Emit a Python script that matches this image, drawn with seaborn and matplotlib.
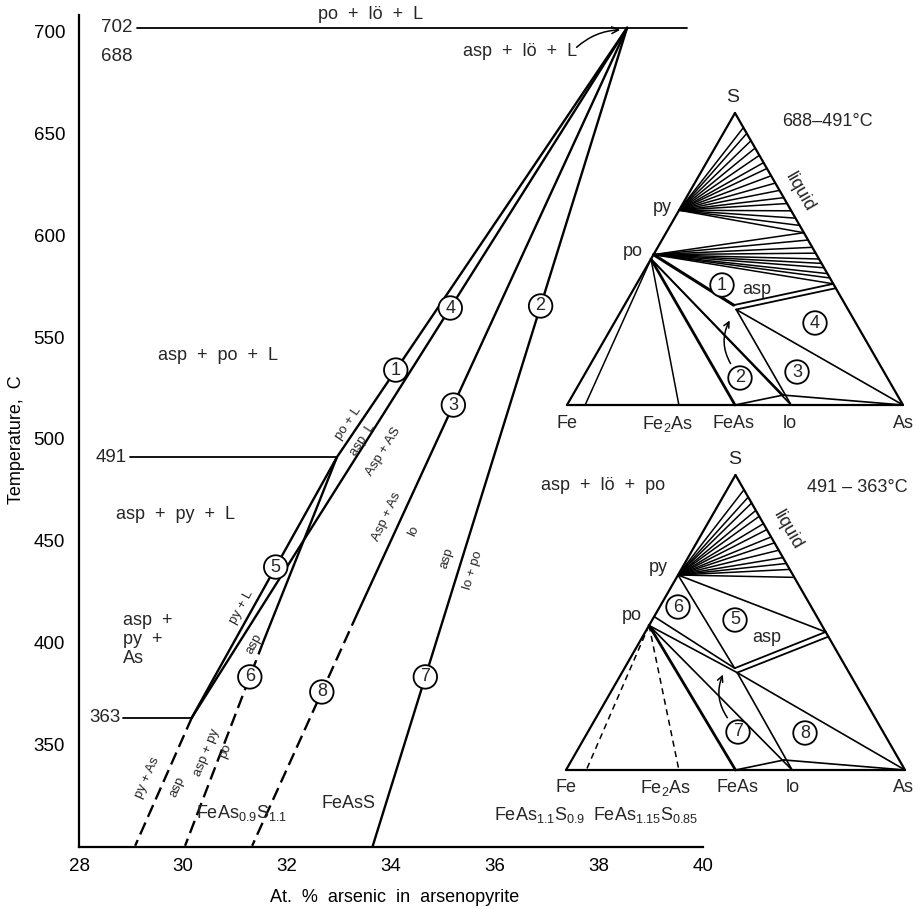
import numpy as np
import matplotlib
matplotlib.use("Agg")
import matplotlib.pyplot as plt
import seaborn as sns

sns.set_theme(style="white")
plt.rcParams['font.family'] = ['Liberation Sans', 'DejaVu Sans']
plt.rcParams['mathtext.default'] = 'regular'

# ---------------------------------------------------------------------------
# Univariant curves: at.% As in arsenopyrite versus temperature (deg C)
# ---------------------------------------------------------------------------
c1_x, c1_t = [38.54, 32.96], [702, 491]            # asp + po + L
c4_x, c4_t = [38.54, 30.17], [702, 363]            # asp + As + L
c5_x, c5_t = [32.96, 30.17], [491, 363]            # asp + py + L
cpa_x, cpa_t = [30.17, 29.08], [363, 300]          # asp + py + As (metastable)
c6_x, c6_t = [32.96, 31.54], [491, 400]            # asp + py + po
c6d_x, c6d_t = [31.54, 30.04], [400, 300]
c3_x, c3_t = [38.54, 33.35], [702, 414]            # asp + lo + As
c8_x, c8_t = [33.35, 31.33], [414, 300]
c2_x, c2_t = [38.54, 33.65], [702, 300]            # asp + lo + po

# invariant temperatures
inv_t = [702, 688, 491, 363]

# arsenopyrite compositions marked on the x axis
comp_x = [30.0, 33.33, 36.67, 38.33]
comp_lab = [r'FeAs$_{0.9}$S$_{1.1}$', 'FeAsS', r'FeAs$_{1.1}$S$_{0.9}$', r'FeAs$_{1.15}$S$_{0.85}$']

W, H = 918, 909
fig = plt.figure(figsize=(W / 100, H / 100), dpi=100)
ax = fig.add_axes([79 / W, 1 - 847 / H, 624 / W, 832 / H])
ax.set_xlim(28, 40)
ax.set_ylim(299.4, 708.3)

LW = 1.7
DASH = (0, (5.5, 2.6))
solid = [(c1_x, c1_t), (c4_x, c4_t), (c5_x, c5_t), (c6_x, c6_t), (c3_x, c3_t), (c2_x, c2_t)]
dashed = [(cpa_x, cpa_t), (c6d_x, c6d_t), (c8_x, c8_t)]
for xs, ts in solid:
    sns.lineplot(x=xs, y=ts, ax=ax, color='black', lw=LW, sort=False, estimator=None)
for xs, ts in dashed:
    sns.lineplot(x=xs, y=ts, ax=ax, color='black', lw=LW, sort=False, estimator=None,
                 linestyle=DASH)

# invariant isotherms
ax.plot([29.12, 39.69], [702, 702], color='black', lw=1.3)
ax.plot([28.98, c1_x[1]], [491, 491], color='black', lw=1.3)
ax.plot([28.85, c5_x[1]], [363, 363], color='black', lw=1.3)
for t, xx in zip(inv_t, [28.73, 28.73, 28.62, 28.5]):
    ax.text(xx, t, str(t), fontsize=13.5, ha='center', va='center',
            bbox=dict(fc='white', ec='none', pad=0.5))

# spines and ticks
sns.despine(ax=ax)
for s in ['left', 'bottom']:
    ax.spines[s].set_linewidth(1.6)
    ax.spines[s].set_color('black')
ax.set_yticks(np.arange(350, 701, 50))
ax.set_yticks(inv_t, minor=True)
ax.yaxis.remove_overlapping_locs = False
ax.tick_params(axis='y', which='major', direction='in', length=11, width=1.5,
               labelsize=13.5, pad=10, colors='black')
ax.tick_params(axis='y', which='minor', direction='in', length=9, width=1.5)
xt = np.arange(28, 41, 1)
ax.set_xticks(xt)
ax.set_xticklabels([str(v) if v % 2 == 0 else '' for v in xt])
ax.set_xticks([30, 32, 33.33, 36.67, 38.33, 40], minor=True)
ax.xaxis.remove_overlapping_locs = False
ax.tick_params(axis='x', which='major', direction='in', length=5.5, width=1.4,
               labelsize=13.5, pad=8, colors='black')
ax.tick_params(axis='x', which='minor', direction='in', length=9.5, width=1.4)

ax.set_ylabel('Temperature,  C', fontsize=13, color='black')
ax.yaxis.set_label_coords(-0.086, 0.49)
ax.set_xlabel('At.  %  arsenic  in  arsenopyrite', fontsize=13, color='black')
ax.xaxis.set_label_coords(0.506, -0.05)

# curve numbers
circ = dict(boxstyle='circle,pad=0.18', fc='white', ec='black', lw=1.3)
curve_marks = [('1', c1_x, c1_t, 533.8), ('4', c4_x, c4_t, 564.3), ('2', c2_x, c2_t, 565.3),
               ('3', c3_x, c3_t, 516.6), ('5', c5_x, c5_t, 437), ('6', c6d_x, c6d_t, 383),
               ('8', c8_x, c8_t, 375.6), ('7', c2_x, c2_t, 383)]
for lab, xs, ts, t in curve_marks:
    xx = np.interp(t, ts[::-1], xs[::-1])
    ax.text(xx, t, lab, fontsize=13, ha='center', va='center', bbox=circ, zorder=5)

# phase-field labels
fs = 13
ax.text(33.6, 708.3, 'po  +  lö  +  L', fontsize=fs, ha='center', va='center', clip_on=False)
ax.text(36.48, 690.2, 'asp  +  lö  +  L', fontsize=fs, ha='center', va='center')
ax.annotate('', xy=(38.46, 701), xytext=(37.53, 691.5),
            arrowprops=dict(arrowstyle='->', lw=1.1, color='black',
                            connectionstyle='arc3,rad=-0.2'))
ax.text(30.67, 541.2, 'asp  +  po  +  L', fontsize=fs, ha='center', va='center')
ax.text(29.85, 462.6, 'asp  +  py  +  L', fontsize=fs, ha='center', va='center')
ax.text(28.85, 401.6, 'asp  +\npy  +\nAs', fontsize=fs, ha='left', va='center', linespacing=1.15)
ax.text(38.08, 477.3, 'asp  +  lö  +  po', fontsize=fs, ha='center', va='center')
ax.text(31.13, 316, comp_lab[0], fontsize=fs, ha='center', va='center')
ax.text(33.19, 321, comp_lab[1], fontsize=fs, ha='center', va='center')
ax.text(36.85, 315, comp_lab[2], fontsize=fs, ha='center', va='center')
ax.text(38.9, 315, comp_lab[3], fontsize=fs, ha='center', va='center')

# labels along the curves
small = [('po + L', 33.17, 507.8, 56), ('asp  L', 33.46, 499.4, 57), ('Asp + AS', 33.85, 493.5, 58),
         ('py + L', 31.12, 417.3, 61), ('asp', 31.37, 399.2, 62),
         ('py + As', 29.31, 333.3, 66), ('asp', 29.9, 328.9, 66),
         ('asp + py', 30.46, 346, 68), ('po', 30.81, 346.6, 68),
         ('Asp + As', 33.92, 461.6, 65), ('lo', 34.44, 454.7, 65),
         ('asp', 35.08, 441.4, 73), ('lo + po', 35.58, 435.5, 73)]
for s, xx, t, r in small:
    ax.text(xx, t, s, fontsize=9.5, rotation=r, ha='center', va='center',
            rotation_mode='anchor')

# ---------------------------------------------------------------------------
# Ternary Fe-As-S sections, compositions in at.% (As, S)
# ---------------------------------------------------------------------------
SQ = np.sqrt(3) / 2


def tern(c):
    a, s = c[0] / 100.0, c[1] / 100.0
    return a + s / 2.0, s * SQ


FE, AS_, S_ = (0, 0), (100, 0), (0, 100)
FE2AS, FEAS, LO = (33.3, 0), (50, 0), (66.7, 0)

# 688-491 C
t1_py = (0, 66.7)
t1_po_hi, t1_po_lo = (0, 51.5), (0, 50.0)
t1_fe_end = (5.4, 0)
t1_py_liq_S = [95, 93, 90.5, 88, 85.5, 83, 81, 78.5, 76, 73.5, 71, 69, 66.5, 64, 61.5, 59]
t1_po_liq_S = [59, 56.5, 54, 52, 50, 48.5, 47, 45, 43.5, 41.5]
t1_asp = [(32.5, 34.2), (34.0, 32.7)]
t1_liq_asp_S = [41.5, 40.0]
t1_lo_top = (62.6, 3.4)

# 491-363 C
t2_py = (0, 66.1)
t2_po_hi, t2_po_lo = (0, 52.0), (0, 49.0)
t2_fe_end = (6.0, 0)
t2_py_liq_S = [95, 92.5, 90.5, 88, 86, 83.5, 81.5, 79, 77, 74.5, 72, 70, 68, 65.3]
t2_asp = [(32.5, 34.5), (34.0, 33.0)]
t2_liq_asp_S = [46.8, 45.2]
t2_lo_top = (62.6, 3.4)


def liq(s):
    return (100 - s, s)


def draw_seg(axt, p, q, lw=1.2, ls='-'):
    x0, y0 = tern(p)
    x1, y1 = tern(q)
    axt.plot([x0, x1], [y0, y1], color='black', lw=lw, ls=ls, clip_on=False,
             solid_capstyle='round')


def make_tern(fe_px, as_px, base_px, top_px):
    w = as_px - fe_px
    h = base_px - top_px
    a = fig.add_axes([fe_px / W, 1 - base_px / H, w / W, h / H])
    a.set_xlim(0, 1)
    a.set_ylim(0, SQ)
    a.axis('off')
    a.patch.set_alpha(0)
    return a


# first section
ta = make_tern(567, 903, 405, 113)
for p, q in [(FE, AS_), (AS_, S_), (S_, FE)]:
    draw_seg(ta, p, q, lw=1.6)
for s in t1_py_liq_S:
    draw_seg(ta, t1_py, liq(s), lw=1.1)
for s in t1_po_liq_S:
    draw_seg(ta, t1_po_hi, liq(s), lw=1.1)
for pa, s in zip(t1_asp, t1_liq_asp_S):
    draw_seg(ta, pa, liq(s), lw=1.3)
draw_seg(ta, t1_po_hi, t1_asp[0], lw=2.2)
draw_seg(ta, t1_asp[1], AS_, lw=1.2)
draw_seg(ta, t1_asp[1], LO, lw=1.2)
draw_seg(ta, t1_po_lo, LO, lw=1.2)
draw_seg(ta, t1_po_lo, t1_lo_top, lw=1.2)
draw_seg(ta, t1_po_lo, FEAS, lw=2.0)
draw_seg(ta, t1_po_lo, FE2AS, lw=1.1)
draw_seg(ta, t1_po_lo, t1_fe_end, lw=1.1)
draw_seg(ta, t1_lo_top, AS_, lw=1.2)
draw_seg(ta, FEAS, t1_lo_top, lw=1.2)

# second section
tb = make_tern(566, 905, 770, 475)
for p, q in [(FE, AS_), (AS_, S_), (S_, FE)]:
    draw_seg(tb, p, q, lw=1.6)
for s in t2_py_liq_S:
    draw_seg(tb, t2_py, liq(s), lw=1.1)
draw_seg(tb, t2_py, liq(t2_liq_asp_S[0]), lw=1.2)
draw_seg(tb, t2_py, t2_asp[0], lw=1.2)
for pa, s in zip(t2_asp, t2_liq_asp_S):
    draw_seg(tb, pa, liq(s), lw=1.3)
draw_seg(tb, t2_po_hi, t2_asp[0], lw=1.2)
draw_seg(tb, t2_po_lo, t2_asp[1], lw=1.2)
draw_seg(tb, t2_asp[1], AS_, lw=1.2)
draw_seg(tb, t2_asp[1], LO, lw=1.2)
draw_seg(tb, t2_po_lo, LO, lw=1.2)
draw_seg(tb, t2_po_lo, FEAS, lw=2.0)
draw_seg(tb, t2_po_lo, FE2AS, lw=1.1, ls=(0, (4, 3)))
draw_seg(tb, t2_po_lo, t2_fe_end, lw=1.1, ls=(0, (4, 3)))
draw_seg(tb, t2_lo_top, AS_, lw=1.2)
draw_seg(tb, FEAS, t2_lo_top, lw=1.2)


def ftext(px, py, s, **kw):
    kw.setdefault('fontsize', 13)
    kw.setdefault('ha', 'center')
    kw.setdefault('va', 'center')
    fig.text(px / W, 1 - py / H, s, **kw)


# labels of the first section
ftext(733, 97, 'S', fontsize=14)
ftext(827, 122, '688–491°C')
ftext(662, 207, 'py')
ftext(633, 251, 'po')
ftext(800, 192, 'liquid', rotation=-60)
ftext(722, 285, '1', bbox=circ)
ftext(757, 290, 'asp')
ftext(815, 323, '4', bbox=circ)
ftext(797, 372, '3', bbox=circ)
ftext(740, 378, '2', bbox=circ)
for px, s in [(567, 'Fe'), (668, r'Fe$_2$As'), (733, 'FeAs'), (790, 'lo'), (903, 'As')]:
    ftext(px, 424, s)

# labels of the second section
ftext(735, 460, 'S', fontsize=14)
ftext(857, 487, '491 – 363°C')
ftext(658, 567, 'py')
ftext(632, 615, 'po')
ftext(788, 530, 'liquid', rotation=-60)
ftext(678, 607, '6', bbox=circ)
ftext(735, 620, '5', bbox=circ)
ftext(767, 638, 'asp')
ftext(738, 732, '7', bbox=circ)
ftext(805, 733, '8', bbox=circ)
for px, s in [(566, 'Fe'), (666, r'Fe$_2$As'), (737, 'FeAs'), (793, 'lo'), (903, 'As')]:
    ftext(px, 788, s)

# arrows pointing at the thin asp + po + lo fields
fig.add_artist(matplotlib.patches.FancyArrowPatch(
    (732 / W, 1 - 366 / H), (731 / W, 1 - 318 / H), transform=fig.transFigure,
    arrowstyle='->', mutation_scale=10, lw=1.1, color='black',
    connectionstyle='arc3,rad=-0.3'))
fig.add_artist(matplotlib.patches.FancyArrowPatch(
    (729 / W, 1 - 720 / H), (724 / W, 1 - 672 / H), transform=fig.transFigure,
    arrowstyle='->', mutation_scale=10, lw=1.1, color='black',
    connectionstyle='arc3,rad=-0.3'))

fig.savefig('out.png', dpi=100)
